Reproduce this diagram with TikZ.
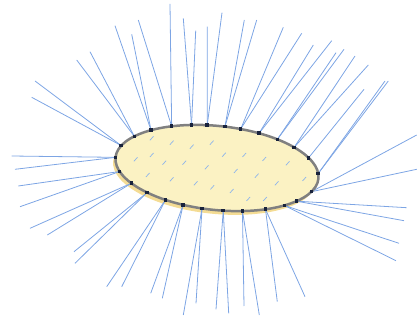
\documentclass[tikz,border=0pt]{standalone}
\definecolor{hairblue}{RGB}{125,165,228}
\definecolor{cellfill}{RGB}{251,242,195}
\definecolor{cellband}{RGB}{244,220,148}
\definecolor{cellline}{RGB}{128,128,128}
\definecolor{spotdark}{RGB}{25,35,60}
\definecolor{dashblue}{RGB}{140,180,235}
\tikzset{hair/.style={color=hairblue, line width=0.8pt}}
\tikzset{spot/.style={fill=spotdark, minimum size=3.6pt, inner sep=0pt}}

\begin{document}
\begin{tikzpicture}[
		x=1pt, y=-1pt,
		membrane/.style={draw=cellline, line width=2.5pt, fill=cellfill},
		dash mark/.style={color=dashblue, line width=0.7pt}
		]    % pixel coordinates, y runs down
		\useasboundingbox (0,0) rectangle (417,320);
		% points on the cell edge, by angle
		\begin{scope}[shift={(217,168)}, rotate=-6]
			\fill[cellband] (-2,4) ellipse [x radius=102pt, y radius=42pt];
			\foreach \t in {180,161,145,131,118,107,96,84,73,59,46,36,19,353,332,317,304,292,281,272,262,253,241,227,213,197}
				\coordinate (d\t) at (\t:102 and 42);
		\end{scope}
		% hairs
		\foreach \t/\ex/\ey [count=\k] in {180/11.7/156, 180/15/169.3,
				161/18.3/186, 161/20/206.7, 145/30/228.3, 145/47.3/235,
				131/74/251.7, 131/75/263.3, 118/106.7/286.7, 118/121.7/286.7,
				107/150.7/293.3, 107/162.3/298.3, 96/183.3/315, 96/196/303.3,
				84/216/309.3, 84/228.7/313.3, 73/244/306, 73/259.3/315,
				59/277.3/301.7, 59/305/296.7, 46/399/243.3, 46/396/260.7,
				36/406.7/207.7, 36/404/220.7, 19/416.7/135, 19/416.7/169.3,
				353/385/81, 353/388.3/81, 332/364/89.3, 317/355/56, 317/368.3/65,
				304/336/52.7, 304/344/49.3, 292/313.3/45, 292/331.7/40.7,
				281/283.3/27.3, 281/301.7/33.3, 272/244.3/20, 272/256.7/20,
				262/207.3/26.7, 262/222/12.7, 253/183.3/18.3, 253/195.7/30.7,
				241/138.3/20, 241/170/4, 227/115/25.7, 227/131.7/34.3,
				213/76.7/60, 213/90/51.7, 197/31.7/97.3, 197/35/81}
			{
			\coordinate (e\k) at (\ex,\ey);
			\draw[hair] (d\t) -- (e\k);
			}
		\begin{scope}[shift={(217,168)}, rotate=-6]
			\draw[membrane] (0,0) ellipse [x radius=102pt, y radius=42pt];
		\end{scope}
		% marks inside
		\foreach \x/\y in {151.7/138.3, 171.7/142.7, 191.7/146.7, 211.7/142.7,
				135.7/159.3, 151.7/155, 164.3/162.7, 184.3/162.7, 206.7/167.3,
				224/154.7, 244.3/155, 264.3/159, 287.7/163.3,
				147.7/175, 171.7/179.3, 195.7/183.3, 212.3/187.3, 235.7/171,
				256.7/175.7, 276.7/183.3, 304.3/179,
				231.7/191, 248.3/199, 265/199}
			\draw[dash mark] (\x-1.8,\y+2) -- (\x+1.8,\y-2);
		\foreach \t in {180,161,145,131,118,107,96,84,73,59,46,36,19,353,332,317,304,292,281,272,262,253,241,227,213,197}
			\node[spot] (s\t) at (d\t) {};
	\end{tikzpicture}
\end{document}
